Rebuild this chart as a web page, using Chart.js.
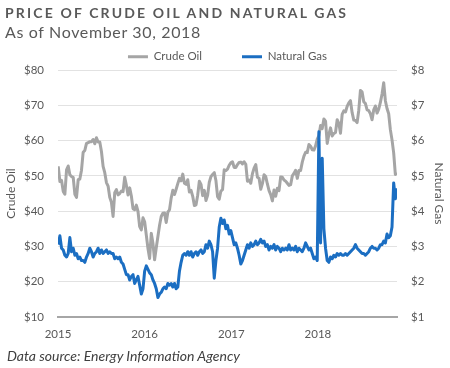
<!DOCTYPE html>
<html>
<head>
<meta charset="utf-8">
<script src="https://cdn.jsdelivr.net/npm/chart.js@4.4.1/dist/chart.umd.min.js"></script>
<style>
  html, body { margin: 0; padding: 0; background: #fff; }
  #wrap { position: relative; width: 450px; height: 368px; font-family: Lato, 'Open Sans', sans-serif; color: #595959; }
  #chart { position: absolute; left: 0; top: 0; }
  .title { position: absolute; left: 5px; top: 4px; font-size: 14px; font-weight: 700; letter-spacing: 2.15px; white-space: nowrap; }
  .subtitle { position: absolute; left: 5px; top: 22px; font-size: 16px; letter-spacing: 0.65px; white-space: nowrap; }
  .source { position: absolute; left: 7px; top: 347px; font-size: 14px; font-style: italic; color: #404040; white-space: nowrap; }
</style>
</head>
<body>
<div id="wrap">
  <canvas id="chart" width="450" height="368"></canvas>
  <div class="title">PRICE OF CRUDE OIL AND NATURAL GAS</div>
  <div class="subtitle">As of November 30, 2018</div>
  <div class="source">Data source: Energy Information Agency</div>
</div>
<script>
// weekly readings, one value per Friday starting 2 Jan 2015
const firstWeek = [2015, 0, 2];

// Crude oil ($ per barrel)
const crude2015 = [52.7, 48.4, 48.7, 45.6, 44.8, 51.7, 52.8, 50.3, 49.8, 49.6, 44.8, 43.9, 48.9,
  49.1, 51.6, 56.7, 57.2, 59.2, 59.4, 59.7, 59.7, 60.3, 59.1, 60.8, 59.6, 59.6,
  56.9, 52.7, 50.9, 48.1, 47.1, 43.9, 42.5, 38.5, 45.2, 46.1, 44.6, 45.0, 45.7,
  45.5, 49.6, 47.3, 44.6, 46.6, 44.3, 40.7, 40.4, 41.7, 39.9, 35.6, 34.7, 38.1];
const crude2016 = [37.0, 33.2, 29.4, 26.6, 33.7, 30.9, 26.2, 29.6, 32.8, 36.0, 38.5, 39.4, 39.5,
  36.8, 39.7, 40.4, 43.7, 45.9, 44.7, 46.2, 47.8, 49.3, 48.6, 50.5, 47.9, 47.6,
  48.9, 45.4, 45.9, 44.2, 41.6, 41.8, 44.5, 48.5, 47.6, 44.4, 45.9, 43.0, 44.5, 48.2,
  49.8, 50.4, 50.9, 48.7, 44.1, 43.4, 45.7, 46.1, 51.7, 51.5, 51.9, 53.0, 53.7];
const crude2017 = [54.0, 52.4, 52.4, 53.2, 53.8, 53.9, 53.4, 54.0, 53.3, 48.5, 48.8, 47.9, 50.6,
  52.2, 53.2, 49.6, 49.3, 46.2, 47.8, 50.3, 49.8, 47.7, 45.8, 44.7, 42.9, 46.0,
  44.2, 46.5, 45.8, 49.7, 49.6, 48.8, 48.5, 47.9, 47.3, 47.5, 50.0, 50.7, 51.6,
  49.3, 51.5, 51.5, 53.9, 55.6, 56.7, 56.6, 58.9, 58.4, 57.4, 57.3, 58.5, 60.4];
const crude2018 = [61.4, 64.3, 63.4, 66.1, 65.5, 59.2, 61.7, 63.6, 61.3, 62.0, 62.3, 65.9, 64.9,
  62.1, 67.4, 68.4, 68.1, 69.7, 70.7, 71.3, 67.9, 65.8, 65.7, 65.1, 68.6, 74.2,
  73.8, 71.0, 70.5, 68.7, 68.5, 67.6, 65.9, 68.7, 69.8, 67.8, 68.9, 70.8, 73.2,
  76.4, 71.3, 69.1, 67.6, 63.1, 60.2, 56.5, 50.4, 50.9];

// Natural gas ($ per MMBtu)
const gas2015 = [3.05, 3.30, 2.95, 2.90, 2.75, 2.70, 2.80, 3.25, 2.85, 2.95, 2.75, 2.80, 2.65,
  2.70, 2.60, 2.60, 2.55, 2.70, 2.80, 2.95, 2.85, 2.70, 2.80, 2.85, 2.95, 2.80,
  2.90, 2.80, 2.85, 2.90, 2.80, 2.85, 2.80, 2.80, 2.65, 2.70, 2.65, 2.70, 2.55,
  2.50, 2.35, 2.20, 2.20, 2.05, 2.15, 2.20, 1.95, 2.05, 2.15, 1.90, 1.65, 1.80];
const gas2016 = [2.30, 2.45, 2.35, 2.25, 2.20, 2.05, 1.95, 1.80, 1.55, 1.65, 1.70, 1.80, 1.85,
  1.80, 1.95, 1.90, 1.95, 1.85, 1.95, 1.80, 1.85, 2.30, 2.55, 2.75, 2.80, 2.75,
  2.85, 2.75, 2.85, 2.70, 2.80, 2.85, 2.75, 2.85, 2.90, 2.80, 2.85, 3.05, 2.95, 3.15,
  3.05, 2.85, 2.10, 2.60, 2.95, 3.55, 3.80, 3.65, 3.75, 3.50, 3.60, 3.35, 3.45];
const gas2017 = [3.25, 3.05, 3.10, 2.95, 2.75, 2.50, 2.60, 2.75, 2.90, 3.05, 2.95, 3.10, 3.00,
  3.05, 3.15, 3.05, 3.10, 3.20, 3.10, 3.15, 3.00, 3.05, 2.90, 3.00, 2.95, 3.05,
  2.90, 3.00, 2.95, 2.85, 2.95, 2.90, 2.95, 2.90, 3.05, 2.90, 2.95, 2.90, 3.00,
  2.85, 2.95, 2.90, 2.85, 2.95, 3.10, 3.00, 2.90, 2.95, 2.80, 2.65, 2.70, 2.60];
const gas2018 = [6.25, 3.10, 5.50, 3.50, 2.95, 2.60, 2.55, 2.70, 2.65, 2.75, 2.70, 2.80, 2.75,
  2.80, 2.75, 2.75, 2.80, 2.75, 2.80, 2.85, 2.90, 2.95, 3.05, 2.95, 2.90, 2.85,
  2.80, 2.80, 2.75, 2.80, 2.85, 2.95, 3.00, 2.95, 2.95, 2.90, 2.95, 3.05, 3.05,
  3.15, 3.10, 3.35, 3.25, 3.30, 3.55, 4.80, 4.35, 4.65];

const yearTicks = [2015, 2016, 2017, 2018];
const crudeTicks = [10, 20, 30, 40, 50, 60, 70, 80];
const gasTicks = [1, 2, 3, 4, 5, 6, 7, 8];

const crudeOil = [...crude2015, ...crude2016, ...crude2017, ...crude2018];
const naturalGas = [...gas2015, ...gas2016, ...gas2017, ...gas2018];

// week index -> fractional year
function weekToYear(i) {
  const t = Date.UTC(firstWeek[0], firstWeek[1], firstWeek[2] + 7 * i);
  const yr = new Date(t).getUTCFullYear();
  const start = Date.UTC(yr, 0, 1), end = Date.UTC(yr + 1, 0, 1);
  return yr + (t - start) / (end - start);
}
const weeks = crudeOil.map((_, i) => weekToYear(i));

const textColor = '#595959';
const tickFont = { family: 'Lato', size: 11.5 };

// keep the legend strip a fixed height so the plot starts where it should
const legendStrip = {
  id: 'legendStrip',
  beforeLayout(chart) {
    const lg = chart.legend;
    if (lg && !lg._fixed) {
      const fit = lg.fit;
      lg.fit = function () { fit.call(this); this.height = 59; };
      lg._fixed = true;
    }
  }
};

new Chart(document.getElementById('chart'), {
  type: 'line',
  data: {
    datasets: [{
      label: 'Crude Oil',
      data: weeks.map((x, i) => ({ x, y: crudeOil[i] })),
      yAxisID: 'y',
      borderColor: '#a5a5a5',
      backgroundColor: '#a5a5a5',
      borderWidth: 3,
      order: 2
    }, {
      label: 'Natural Gas',
      data: weeks.map((x, i) => ({ x, y: naturalGas[i] })),
      yAxisID: 'y1',
      borderColor: '#1b6ec2',
      backgroundColor: '#1b6ec2',
      borderWidth: 3,
      order: 1
    }]
  },
  options: {
    responsive: false,
    animation: false,
    layout: { padding: { top: 11, bottom: 21, left: 0, right: 0 } },
    elements: { point: { radius: 0 }, line: { tension: 0, borderJoinStyle: 'round' } },
    plugins: {
      legend: {
        fullSize: false,
        labels: {
          color: textColor,
          font: { family: 'Lato', size: 11.5 },
          usePointStyle: true,
          pointStyle: 'line',
          pointStyleWidth: 20,
          padding: 40,
          sort: (a, b) => a.datasetIndex - b.datasetIndex
        }
      },
      tooltip: { enabled: false }
    },
    scales: {
      x: {
        type: 'linear',
        min: 2015,
        max: weeks[weeks.length - 1],
        afterBuildTicks: s => { s.ticks = yearTicks.map(v => ({ value: v })); },
        afterFit: s => { s.height = 30; },
        ticks: { color: textColor, font: tickFont, padding: 10, maxRotation: 0, autoSkip: false, callback: v => String(v) },
        grid: { display: false, drawTicks: false },
        border: { color: '#a6a6a6', width: 2 }
      },
      y: {
        position: 'left',
        min: 10,
        max: 80,
        afterBuildTicks: s => { s.ticks = crudeTicks.map(v => ({ value: v })); },
        afterFit: s => { s.width = 58; },
        ticks: { color: textColor, font: tickFont, padding: 14, callback: v => '$' + v },
        grid: { color: '#e2e2e2', drawTicks: false },
        border: { display: false },
        title: { display: true, text: 'Crude Oil', color: textColor, font: { family: 'Lato', size: 12 } }
      },
      y1: {
        position: 'right',
        min: 1,
        max: 8,
        afterBuildTicks: s => { s.ticks = gasTicks.map(v => ({ value: v })); },
        afterFit: s => { s.width = 53; },
        ticks: { color: textColor, font: tickFont, padding: 14, callback: v => '$' + v },
        grid: { drawOnChartArea: false, drawTicks: false },
        border: { display: false },
        title: { display: true, text: 'Natural Gas', color: textColor, font: { family: 'Lato', size: 12 } }
      }
    }
  },
  plugins: [legendStrip]
});
</script>
</body>
</html>
